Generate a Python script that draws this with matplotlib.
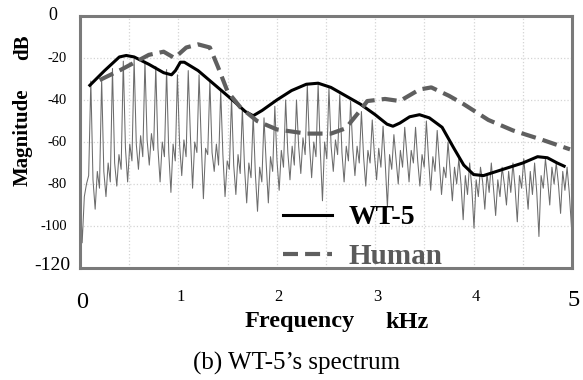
import matplotlib
matplotlib.use("Agg")
import matplotlib.pyplot as plt
import numpy as np
from matplotlib import transforms

plt.rcParams["font.family"] = ["Liberation Serif", "DejaVu Serif"]

# one row per harmonic of the 110 Hz fundamental: peak, then the noise floor up to the next one
BIN_KHZ = 0.022
spec_db = [
    -82, -108, -86, -80, -76,
    -31, -78, -92, -74, -82,
    -30, -74, -86, -70, -79,
    -25, -70, -81, -66, -73,
    -21.5, -63, -79, -61, -69,
    -20.5, -61, -73, -57, -67,
    -21.5, -59, -71, -56, -64,
    -24, -63, -79, -60, -67,
    -25.5, -65, -84, -61, -69,
    -28, -61, -76, -59, -67,
    -26, -57, -82, -60, -65,
    -28, -60, -87, -63, -66,
    -31, -65, -74, -61, -71,
    -35.5, -66, -86, -69, -73,
    -39, -71, -85, -66, -75,
    -44, -72, -89, -70, -77,
    -47, -75, -93, -72, -79,
    -48.5, -70, -89, -67, -74,
    -43, -69, -83, -64, -72,
    -40, -65, -78, -62, -71,
    -40, -62, -75, -58, -66,
    -33, -61, -77, -60, -67,
    -32.5, -64, -88, -60, -68,
    -34.5, -62, -74, -59, -66,
    -37.5, -65, -79, -62, -69,
    -40.5, -63, -76, -62, -70,
    -45.5, -67, -81, -64, -70,
    -49.5, -66, -78, -63, -72,
    -52.5, -70, -91, -66, -73,
    -56.5, -68, -80, -64, -72,
    -53, -66, -79, -64, -70,
    -53, -69, -81, -66, -72,
    -50, -68, -83, -67, -74,
    -54.5, -70, -85, -72, -77,
    -60, -74, -88, -72, -80,
    -68, -80, -97, -76, -85,
    -70, -82, -101, -78, -86,
    -72, -79, -92, -75, -84,
    -70, -82, -95, -78, -86,
    -72, -80, -90, -74, -84,
    -70, -82, -98, -76, -82,
    -68, -80, -92, -74, -85,
    -70, -84, -105, -76, -82,
    -68, -78, -90, -72, -80,
    -70, -80, -94, -74, -83,
    -72, -84, -100,
]

# WT-5 envelope (solid black)
wt5_khz = [0.10, 0.25, 0.40, 0.47, 0.55, 0.70, 0.85, 0.93, 0.97, 1.02, 1.06, 1.20,
           1.40, 1.55, 1.68, 1.76, 1.85, 2.00, 2.15, 2.30, 2.42, 2.55, 2.70, 2.85,
           3.00, 3.12, 3.18, 3.25, 3.35, 3.45, 3.55, 3.68, 3.80, 3.90, 4.00, 4.10,
           4.30, 4.50, 4.65, 4.75, 4.85, 4.92]
wt5_db = [-33, -26, -19.5, -18.8, -19.5, -23, -27, -28, -26, -22, -22, -26,
          -34, -40, -45.5, -47.5, -45, -40, -35.5, -32.5, -32, -34, -38, -42,
          -47, -51.5, -52.5, -51, -48, -47, -48.5, -53, -63, -71, -75.5, -76,
          -73, -70, -67, -67.5, -70, -71.5]

# human voice envelope (grey dashed)
human_khz = [0.20, 0.42, 0.70, 0.85, 0.96, 1.08, 1.20, 1.32, 1.40, 1.50, 1.63,
             1.80, 2.00, 2.30, 2.55, 2.70, 2.83, 2.92, 3.10, 3.25, 3.45, 3.57,
             3.75, 3.90, 4.15, 4.40, 4.70, 4.98]
human_db = [-30.5, -25.5, -18.5, -17, -20, -15, -13.5, -15, -24, -36, -43.5,
            -50, -54, -56, -56, -53.5, -46, -40.5, -39.5, -40.5, -35, -34,
            -38, -42, -49.5, -54.5, -59, -63.5]

x_ticks = [0, 1, 2, 3, 4, 5]
y_ticks = [0, -20, -40, -60, -80, -100, -120]

W, H = 583, 380
fig = plt.figure(figsize=(W / 100, H / 100), dpi=100)
ax = fig.add_axes([80 / W, 1 - 268 / H, 492 / W, 252 / H])

spec_khz = np.arange(len(spec_db)) * BIN_KHZ
ax.plot(spec_khz, spec_db, color="#6c6c6c", lw=0.75, zorder=2)
(l_wt5,) = ax.plot(wt5_khz, wt5_db, color="black", lw=2.2, zorder=4)
(l_hum,) = ax.plot(human_khz, human_db, color="#5f5f5f", lw=3.0,
                   ls=(0, (3.6, 1.7)), zorder=5)

ax.set_xlim(0, 5)
ax.set_ylim(-120, 0)
ax.set_xticks(np.arange(0, 5.01, 0.5))
ax.set_yticks(y_ticks)
ax.tick_params(length=0, labelbottom=False, labelleft=False)
ax.grid(True, color="#d4d4d4", ls=":", lw=0.9, zorder=0)
for s in ax.spines.values():
    s.set_color("#7a7a7a")
    s.set_linewidth(2.2)

PX = 0.72  # points per pixel at 100 dpi

# y tick labels: ends are printed bigger in the original
ytr = transforms.blended_transform_factory(ax.transAxes, ax.transData)
for v in y_ticks:
    if v == 0:
        size, dx, dy = 13, -23, 0
    elif v == -120:
        size, dx, dy = 14, -10, 2
    else:
        size, dx, dy = 10.5, -13, 0
    ax.text(0, v, str(v), fontsize=size, ha="right", va="center",
            transform=transforms.offset_copy(ytr, fig=fig, x=dx * PX, y=dy * PX, units="points"))

xtr = transforms.blended_transform_factory(ax.transData, ax.transAxes)
for v in x_ticks:
    if v in (0, 5):
        size, dy = 17.5, -34 if v == 0 else -32
    else:
        size, dy = 12, -29
    ax.text(v, 0, str(v), fontsize=size, ha="center", va="center",
            transform=transforms.offset_copy(xtr, fig=fig, x=2 * PX, y=dy * PX, units="points"))

# axis titles
fig.text(23 / W, 1 - 137 / H, "Magnitude", rotation=90, fontsize=15,
         fontweight="bold", ha="center", va="center")
fig.text(23 / W, 1 - 47 / H, "dB", rotation=90, fontsize=15,
         fontweight="bold", ha="center", va="center")
fig.text(300 / W, 1 - 322 / H, "Frequency", fontsize=17.5, fontweight="bold",
         ha="center", va="center")
fig.text(407 / W, 1 - 322 / H, "kHz", fontsize=17.5, fontweight="bold",
         ha="center", va="center")
fig.text(297 / W, 1 - 363 / H, "(b) WT-5\u2019s spectrum", fontsize=18,
         ha="center", va="center")

leg = ax.legend([l_wt5, l_hum], ["WT-5", "Human"], loc="upper left",
                bbox_to_anchor=(0.385, 0.305), frameon=False, borderpad=0,
                handlelength=1.75, handletextpad=0.6, labelspacing=0.45,
                prop={"weight": "bold", "size": 20})
leg.get_texts()[1].set_color("#5a5a5a")
leg.get_texts()[1].set_fontsize(21)

fig.savefig("out.png", dpi=100)
